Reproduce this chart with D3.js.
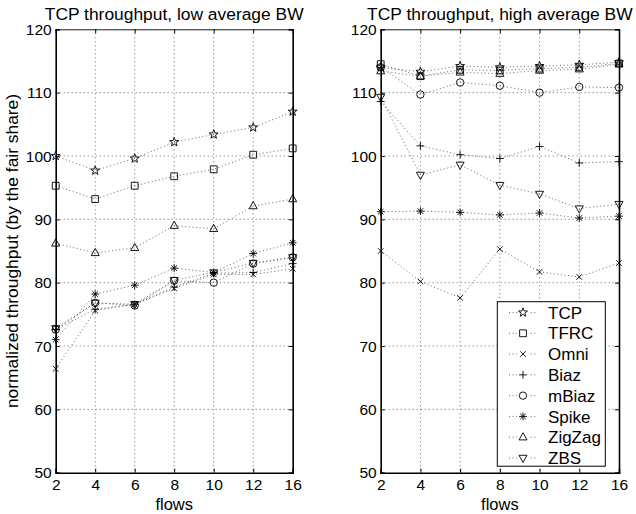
<!DOCTYPE html>
<html><head><meta charset="utf-8">
<script src="https://cdn.jsdelivr.net/npm/d3@7"></script>
<style>body{margin:0;background:#fff} svg{display:block} text{font-family:"Liberation Sans",Arial,sans-serif;fill:#000}</style>
</head><body><svg width="636" height="514"></svg>
<script>
const flows = ["2","4","6","8","10","12","16"];
const yTicks = [50,60,70,80,90,100,110,120];
const seriesNames = ["TCP","TFRC","Omni","Biaz","mBiaz","Spike","ZigZag","ZBS"];
const markerTypes = ["star","square","x","plus","circle","asterisk","triUp","triDown"];
const titles = ["TCP throughput, low average BW","TCP throughput, high average BW"];

// low average BW
const lowTCP    = [100.0, 97.7, 99.6, 102.2, 103.4, 104.5, 107.0];
const lowTFRC   = [95.3, 93.2, 95.3, 96.8, 97.9, 100.2, 101.2];
const lowOmni   = [66.4, 75.6, 76.6, 79.1, 81.3, 81.3, 82.2];
const lowBiaz   = [72.6, 75.8, 76.6, 79.3, 81.5, 81.6, 83.0];
const lowMBiaz  = [72.6, 76.8, 76.4, 80.3, 80.0, 83.0, 84.0];
const lowSpike  = [71.0, 78.2, 79.6, 82.3, 81.6, 84.6, 86.3];
const lowZigZag = [86.2, 84.7, 85.5, 89.0, 88.5, 92.1, 93.2];
const lowZBS    = [72.8, 76.8, 76.6, 80.4, 81.6, 83.1, 84.0];

// high average BW
const highTCP    = [114.0, 113.3, 114.2, 114.0, 114.2, 114.4, 114.8];
const highTFRC   = [114.5, 112.6, 113.6, 113.5, 113.8, 114.0, 114.6];
const highOmni   = [85.0, 80.2, 77.6, 85.3, 81.7, 80.9, 83.1];
const highBiaz   = [108.6, 101.6, 100.2, 99.6, 101.5, 98.9, 99.1];
const highMBiaz  = [114.0, 109.7, 111.6, 111.1, 110.0, 110.9, 110.8];
const highSpike  = [91.2, 91.3, 91.1, 90.7, 91.0, 90.2, 90.5];
const highZigZag = [113.4, 112.6, 113.2, 113.0, 113.5, 113.7, 114.5];
const highZBS    = [109.3, 97.0, 98.6, 95.4, 94.0, 91.7, 92.4];

const lowData  = [lowTCP, lowTFRC, lowOmni, lowBiaz, lowMBiaz, lowSpike, lowZigZag, lowZBS];
const highData = [highTCP, highTFRC, highOmni, highBiaz, highMBiaz, highSpike, highZigZag, highZBS];

const svg = d3.select("svg");
const top_ = 29.3, bottom = 472.7;
const panels = [
  {x0: 55.7, x1: 292.7, data: lowData, title: titles[0]},
  {x0: 380.7, x1: 619, data: highData, title: titles[1]}
];

function markerPath(type){
  const p = d3.path();
  if (type === "star"){
    const R = 4.7, r = 1.9;
    for (let i = 0; i < 10; i++){
      const a = -Math.PI/2 + i*Math.PI/5, rr = i%2 ? r : R;
      const x = rr*Math.cos(a), y = rr*Math.sin(a);
      i ? p.lineTo(x,y) : p.moveTo(x,y);
    }
    p.closePath();
  } else if (type === "square"){
    p.rect(-3.4,-3.4,6.8,6.8);
  } else if (type === "x"){
    const s = 2.8; p.moveTo(-s,-s); p.lineTo(s,s); p.moveTo(-s,s); p.lineTo(s,-s);
  } else if (type === "plus"){
    const s = 3.9; p.moveTo(-s,0); p.lineTo(s,0); p.moveTo(0,-s); p.lineTo(0,s);
  } else if (type === "circle"){
    p.moveTo(3.7,0); p.arc(0,0,3.7,0,2*Math.PI);
  } else if (type === "asterisk"){
    const s = 3.9, d = 2.8;
    p.moveTo(-s,0); p.lineTo(s,0); p.moveTo(0,-s); p.lineTo(0,s);
    p.moveTo(-d,-d); p.lineTo(d,d); p.moveTo(-d,d); p.lineTo(d,-d);
  } else if (type === "triUp"){
    p.moveTo(0,-4.5); p.lineTo(4,2.7); p.lineTo(-4,2.7); p.closePath();
  } else if (type === "triDown"){
    p.moveTo(0,4.5); p.lineTo(4,-2.7); p.lineTo(-4,-2.7); p.closePath();
  }
  return p.toString();
}

panels.forEach((pn, pi) => {
  const x = d3.scalePoint().domain(flows).range([pn.x0, pn.x1]);
  const y = d3.scaleLinear().domain([50,120]).range([bottom, top_]);
  const g = svg.append("g");

  // grid
  g.append("g").selectAll("line").data(flows.slice(1,-1)).join("line")
    .attr("x1", d => x(d)).attr("x2", d => x(d)).attr("y1", top_).attr("y2", bottom)
    .attr("stroke", "#000").attr("stroke-width", 0.6).attr("stroke-dasharray", "1,3");
  g.append("g").selectAll("line").data(yTicks.slice(1,-1)).join("line")
    .attr("x1", pn.x0).attr("x2", pn.x1).attr("y1", d => y(d)).attr("y2", d => y(d))
    .attr("stroke", "#000").attr("stroke-width", 0.6).attr("stroke-dasharray", "1,3");

  // axes with D3 axis generators (inward ticks)
  const xAxis = g.append("g").attr("transform", `translate(0,${bottom})`)
    .call(d3.axisBottom(x).tickSize(-4).tickPadding(6));
  const xAxisTop = g.append("g").attr("transform", `translate(0,${top_})`)
    .call(d3.axisTop(x).tickSize(-4).tickFormat(""));
  const yAxis = g.append("g").attr("transform", `translate(${pn.x0},0)`)
    .call(d3.axisLeft(y).tickValues(yTicks).tickSize(-4).tickPadding(4));
  const yAxisR = g.append("g").attr("transform", `translate(${pn.x1},0)`)
    .call(d3.axisRight(y).tickValues(yTicks).tickSize(-4).tickFormat(""));
  [xAxis, xAxisTop, yAxis, yAxisR].forEach(a => {
    a.select(".domain").attr("stroke", "#000").attr("stroke-width", 1.6);
    a.selectAll(".tick line").attr("stroke", "#000").attr("stroke-width", 1);
    a.selectAll(".tick text").attr("font-size", 15.5).attr("font-family", "Liberation Sans, Arial, sans-serif").attr("fill", "#000");
  });
  xAxisTop.select(".domain").attr("stroke-width", 0.9);
  yAxis.selectAll(".tick text").attr("dy", "0.34em");

  // series
  const line = d3.line().x((d,i) => x(flows[i])).y(d => y(d));
  pn.data.forEach((vals, si) => {
    g.append("path").datum(vals).attr("d", line)
      .attr("fill", "none").attr("stroke", "#000").attr("stroke-width", 0.8)
      .attr("stroke-dasharray", "1,2.6").attr("stroke-opacity", 0.75);
  });
  pn.data.forEach((vals, si) => {
    g.append("g").selectAll("path").data(vals).join("path")
      .attr("transform", (d,i) => `translate(${x(flows[i])},${y(d)})`)
      .attr("d", markerPath(markerTypes[si]))
      .attr("fill", "none").attr("stroke", "#000").attr("stroke-width", 0.9);
  });

  // title and x label
  const cx = (pn.x0 + pn.x1) / 2;
  svg.append("text").attr("x", cx).attr("y", 20).attr("text-anchor", "middle")
    .attr("font-size", 17.4).text(pn.title);
  svg.append("text").attr("x", cx).attr("y", 509.5).attr("text-anchor", "middle")
    .attr("font-size", 16.5).text("flows");
});

// y label
svg.append("text").attr("transform", `translate(18,${(top_+bottom)/2}) rotate(-90)`)
  .attr("text-anchor", "middle").attr("font-size", 17.4)
  .text("normalized throughput (by the fair share)");

// legend
const lg = svg.append("g");
lg.append("rect").attr("x", 497.3).attr("y", 301.7).attr("width", 108).attr("height", 164.5)
  .attr("fill", "#fff").attr("stroke", "#000").attr("stroke-width", 1);
const ly = d3.scalePoint().domain(seriesNames).range([312.5, 458]);
seriesNames.forEach((name, i) => {
  const yy = ly(name);
  lg.append("line").attr("x1", 509).attr("x2", 537).attr("y1", yy).attr("y2", yy)
    .attr("stroke", "#000").attr("stroke-width", 0.8).attr("stroke-dasharray", "1,2.6").attr("stroke-opacity", 0.75);
  lg.append("rect").attr("x", 517).attr("y", yy-5).attr("width", 12).attr("height", 10).attr("fill", "#fff");
  lg.append("path").attr("transform", `translate(523,${yy})`).attr("d", markerPath(markerTypes[i]))
    .attr("fill", "none").attr("stroke", "#000").attr("stroke-width", 0.9);
  lg.append("text").attr("x", 548).attr("y", yy).attr("dy", "0.36em").attr("font-size", 17).text(name);
});
</script></body></html>
